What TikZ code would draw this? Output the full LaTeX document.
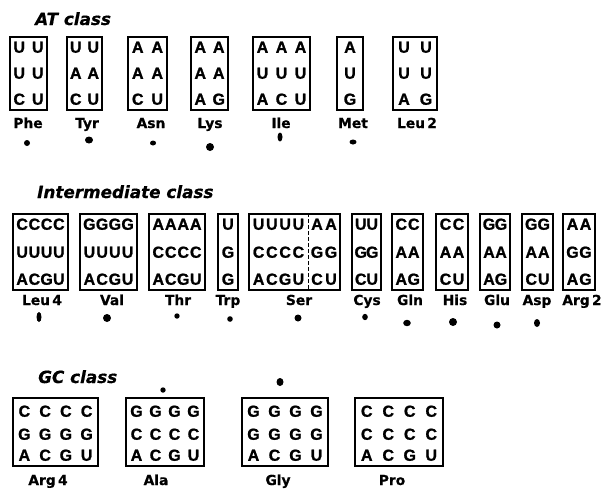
\documentclass[tikz,border=0pt]{standalone}
\usepackage{fontspec}
\setmainfont{Liberation Sans}
\newfontfamily\titlefont{DejaVu Sans}[BoldItalicFeatures={FakeBold=0.6}]
\newfontfamily\labelfont{DejaVu Sans}[BoldFeatures={FakeBold=0.6}]
\newfontfamily\letterfont{Liberation Sans}[BoldFeatures={FakeBold=1.2}]
\usetikzlibrary{calc}
\tikzset{
  codonbox/.style={draw, line width=1.7pt, inner sep=0pt, rectangle},
  letter/.style={inner sep=0pt, anchor=center, text height=11.5pt, text depth=0pt,
    font=\letterfont\bfseries\fontsize{16}{16}\selectfont},
  aalabel/.style={inner sep=0pt, anchor=base,
    font=\labelfont\bfseries\fontsize{13.8}{13.8}\selectfont},
  classtitle/.style={inner sep=0pt, anchor=base west,
    font=\titlefont\bfseries\itshape\fontsize{16.8}{16.8}\selectfont},
  spot/.style={fill=black},
  serdivider/.style={dashed, line width=1pt, dash pattern=on 4pt off 2pt},
}
% #1 name, #2 x1, #3 x2, #4 columns, #5 pad, #6 #7 #8 rows
\newcommand\placeletters[8]{%
  \foreach \r [count=\j] in {{#6},{#7},{#8}} {
    \foreach \c [count=\i] in \r {
      \pgfmathsetmacro\lx{#2+#5+(\i-0.5)*(#3-#2-2*#5)/#4}
      \ifcase\j\relax\or\edef\ly{\rowyi}\or\edef\ly{\rowyii}\or\edef\ly{\rowyiii}\fi
      \node[letter] (#1-\j-\i) at (\lx,\ly) {\c};
    }
  }
}
% #1 name, #2 x1, #3 x2, #4 columns, #5 #6 #7 rows
\newcommand\codonbox[7]{%
  \node[codonbox, minimum width={(#3-#2)*1pt}, minimum height={(\boxbot-\boxtop)*1pt}]
    (#1) at ({(#2+#3)/2},{(\boxtop+\boxbot)/2}) {};
  \placeletters{#1}{#2}{#3}{#4}{\lpad}{#5}{#6}{#7}
}
\begin{document}
\begin{tikzpicture}[x=1pt,y=-1pt]
\fill[white] (0,0) rectangle (604,488);
\useasboundingbox (0,0) rectangle (604,488);

% ---------------- AT class ----------------
\node[classtitle] (titleAT) at (35,25) {AT class};
\def\boxtop{37}\def\boxbot{110}\def\lpad{0}
\def\rowyi{47}\def\rowyii{73}\def\rowyiii{99}
\codonbox{phe}{10}{47}{2}{U,U}{U,U}{C,U}
\codonbox{tyr}{67}{102}{2}{U,U}{A,A}{C,U}
\codonbox{asn}{128}{167}{2}{A,A}{A,A}{C,U}
\codonbox{lys}{191}{228}{2}{A,A}{A,A}{A,G}
\codonbox{ile}{253}{310}{3}{A,A,A}{U,U,U}{A,C,U}
\codonbox{met}{337}{363}{1}{A}{U}{G}
\codonbox{leutwo}{393}{437}{2}{U,U}{U,U}{A,G}
\node[aalabel] (lphe) at (28,128) {Phe};
\node[aalabel] (ltyr) at (87,128) {Tyr};
\node[aalabel] (lasn) at (151,128) {Asn};
\node[aalabel] (llys) at (210,128) {Lys};
\node[aalabel] (lile) at (281,128) {Ile};
\node[aalabel] (lmet) at (353,128) {Met};
\node[aalabel] (lleutwo) at (417,128) {Leu\,2};
\fill[spot] (27,143) circle (3pt);
\fill[spot] (89,140) ellipse (4pt and 3.5pt);
\fill[spot] (153,143) ellipse (3pt and 2.5pt);
\fill[spot] (210,147) circle (4pt);
\fill[spot] (280,137) ellipse (2.5pt and 4.5pt);
\fill[spot] (353,142) ellipse (3.5pt and 2.5pt);

% ---------------- Intermediate class ----------------
\node[classtitle] (titleIM) at (37,198) {Intermediate class};
\def\boxtop{214}\def\boxbot{290}\def\lpad{3}
\def\rowyi{224}\def\rowyii{252}\def\rowyiii{279}
\codonbox{leufour}{13}{68}{4}{C,C,C,C}{U,U,U,U}{A,C,G,U}
\codonbox{val}{80}{137}{4}{G,G,G,G}{U,U,U,U}{A,C,G,U}
\codonbox{thr}{149}{205}{4}{A,A,A,A}{C,C,C,C}{A,C,G,U}
\codonbox{trp}{218}{238}{1}{U}{G}{G}
\node[codonbox, minimum width=91pt, minimum height={(\boxbot-\boxtop)*1pt}]
  (ser) at ({(249+340)/2},{(\boxtop+\boxbot)/2}) {};
\coordinate (serdiv) at (308,0);
\draw[serdivider] (ser.north -| serdiv) -- (ser.south -| serdiv);
\placeletters{serl}{249}{308}{4}{3}{U,U,U,U}{C,C,C,C}{A,C,G,U}
\placeletters{serr}{308}{340}{2}{2}{A,A}{G,G}{C,U}
\codonbox{cys}{352}{381}{2}{U,U}{G,G}{C,U}
\codonbox{gln}{392}{423}{2}{C,C}{A,A}{A,G}
\codonbox{his}{436}{468}{2}{C,C}{A,A}{C,U}
\codonbox{glu}{480}{510}{2}{G,G}{A,A}{A,G}
\codonbox{asp}{522}{553}{2}{G,G}{A,A}{C,U}
\codonbox{argtwo}{563}{595}{2}{A,A}{G,G}{A,G}
\node[aalabel] (lleufour) at (42,305) {Leu\,4};
\node[aalabel] (lval) at (112,305) {Val};
\node[aalabel] (lthr) at (178,305) {Thr};
\node[aalabel] (ltrp) at (228,305) {Trp};
\node[aalabel] (lser) at (299,305) {Ser};
\node[aalabel] (lcys) at (367,305) {Cys};
\node[aalabel] (lgln) at (410,305) {Gln};
\node[aalabel] (lhis) at (455,305) {His};
\node[aalabel] (lglu) at (497,305) {Glu};
\node[aalabel] (lasp) at (537,305) {Asp};
\node[aalabel] (largtwo) at (582,305) {Arg\,2};
\fill[spot] (39,317) ellipse (2.5pt and 5pt);
\fill[spot] (107,318) ellipse (4pt and 4pt);
\fill[spot] (177,316) circle (2.7pt);
\fill[spot] (230,319) circle (2.8pt);
\fill[spot] (298,318) circle (3.5pt);
\fill[spot] (365,317) ellipse (2.8pt and 3.2pt);
\fill[spot] (407,323) ellipse (3.8pt and 3.2pt);
\fill[spot] (453,322) circle (4pt);
\fill[spot] (497,325) circle (3.5pt);
\fill[spot] (537,323) ellipse (3pt and 4pt);

% ---------------- GC class ----------------
\node[classtitle] (titleGC) at (38,383) {GC class};
\def\boxtop{398}\def\boxbot{466}\def\lpad{1}
\def\rowyi{411}\def\rowyii{434}\def\rowyiii{455}
\codonbox{argfour}{13}{98}{4}{C,C,C,C}{G,G,G,G}{A,C,G,U}
\codonbox{ala}{126}{204}{4}{G,G,G,G}{C,C,C,C}{A,C,G,U}
\codonbox{gly}{242}{328}{4}{G,G,G,G}{G,G,G,G}{A,C,G,U}
\codonbox{pro}{355}{443}{4}{C,C,C,C}{C,C,C,C}{A,C,G,U}
\node[aalabel] (largfour) at (48,485) {Arg\,4};
\node[aalabel] (lala) at (156,485) {Ala};
\node[aalabel] (lgly) at (278,485) {Gly};
\node[aalabel] (lpro) at (392,485) {Pro};
\fill[spot] (163,390) circle (2.7pt);
\fill[spot] (280,382) ellipse (3.5pt and 4pt);
\end{tikzpicture}
\end{document}
